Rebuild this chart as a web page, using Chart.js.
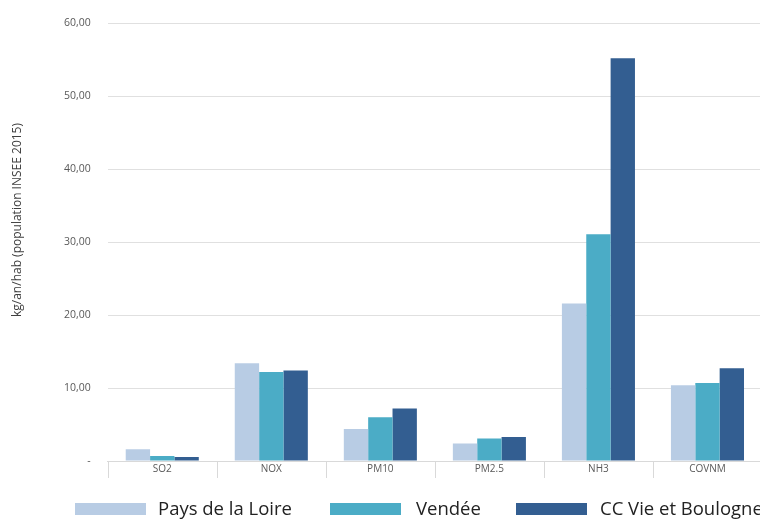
<!DOCTYPE html>
<html>
<head>
<meta charset="utf-8">
<script src="https://cdn.jsdelivr.net/npm/chart.js@4/dist/chart.umd.min.js"></script>
<style>
  html, body { margin: 0; padding: 0; background: #fff; overflow: hidden; }
  #wrap { position: relative; width: 780px; height: 519px; }
  #legend { position: absolute; top: 495px; left: 0; width: 800px; height: 26px;
    font-family: "Open Sans", "Noto Sans", sans-serif; font-size: 18.5px; color: #222; }
  .item { position: absolute; top: 0; white-space: nowrap; }
  .item .box { position: absolute; top: 8px; left: 0; width: 71px; height: 12px; }
  .item .txt { position: absolute; top: 0; }
</style>
</head>
<body>
<div id="wrap">
  <canvas id="c" width="780" height="519"></canvas>
  <div id="legend"></div>
</div>
<script>
  const categories = ['SO2', 'NOX', 'PM10', 'PM2.5', 'NH3', 'COVNM'];
  const seriesNames = ['Pays de la Loire', 'Vendée', 'CC Vie et Boulogne'];
  const paysLoire = [1.6, 13.4, 4.4, 2.4, 21.6, 10.4];
  const vendee = [0.7, 12.2, 6.0, 3.1, 31.1, 10.7];
  const ccVie = [0.55, 12.4, 7.2, 3.3, 55.2, 12.7];
  const colors = ['#b8cce4', '#4bacc6', '#335e91'];
  const yTitle = 'kg/an/hab (population INSEE 2015)';

  const yTitlePlugin = {
    id: 'yTitle',
    afterDraw(chart) {
      const ctx = chart.ctx;
      ctx.save();
      ctx.translate(18, 220);
      ctx.rotate(-Math.PI / 2);
      ctx.font = '12px "Open Sans", sans-serif';
      ctx.fillStyle = '#404040';
      ctx.textAlign = 'center';
      ctx.textBaseline = 'middle';
      ctx.fillText(yTitle, 0, 0);
      ctx.restore();
    }
  };

  // category separator ticks below the x axis
  const catTicks = {
    id: 'catTicks',
    afterDraw(chart) {
      const xs = chart.scales.x;
      const n = categories.length;
      const ctx = chart.ctx;
      ctx.save();
      ctx.strokeStyle = '#d9d9d9';
      ctx.lineWidth = 1;
      for (let i = 0; i <= n; i++) {
        const px = Math.round(xs.left + i * xs.width / n) + 0.5;
        ctx.beginPath();
        ctx.moveTo(px, xs.top);
        ctx.lineTo(px, xs.top + 17);
        ctx.stroke();
      }
      ctx.restore();
    }
  };

  new Chart(document.getElementById('c'), {
    type: 'bar',
    data: {
      labels: categories,
      datasets: [paysLoire, vendee, ccVie].map((d, i) => ({
        label: seriesNames[i],
        data: d,
        backgroundColor: colors[i],
        borderWidth: 0,
        categoryPercentage: 0.67,
        barPercentage: 1.0,
      })),
    },
    options: {
      responsive: false,
      animation: false,
      layout: { padding: { left: 47, right: 18, top: 16, bottom: 42 } },
      plugins: { legend: { display: false }, tooltip: { enabled: false } },
      scales: {
        x: {
          grid: { display: false, drawTicks: false },
          border: { color: '#d9d9d9' },
          ticks: { font: { family: '"Open Sans", sans-serif', size: 10 }, color: '#595959', padding: 2 },
        },
        y: {
          min: 0, max: 60,
          ticks: {
            stepSize: 10,
            padding: 17,
            font: { family: '"Open Sans", sans-serif', size: 10.5 },
            color: '#595959',
            callback: v => v === 0 ? '-' : v.toFixed(2).replace('.', ','),
          },
          grid: { color: '#e0e0e0', drawTicks: false },
          border: { display: false },
        },
      },
    },
    plugins: [yTitlePlugin, catTicks],
  });

  const legendPos = [[75, 158], [330, 416], [516, 600]];
  const legend = document.getElementById('legend');
  seriesNames.forEach((name, i) => {
    const it = document.createElement('div');
    it.className = 'item';
    it.style.left = legendPos[i][0] + 'px';
    it.innerHTML = `<span class="box" style="background:${colors[i]}"></span>` +
      `<span class="txt" style="left:${legendPos[i][1] - legendPos[i][0]}px">${name}</span>`;
    legend.appendChild(it);
  });
</script>
</body>
</html>
